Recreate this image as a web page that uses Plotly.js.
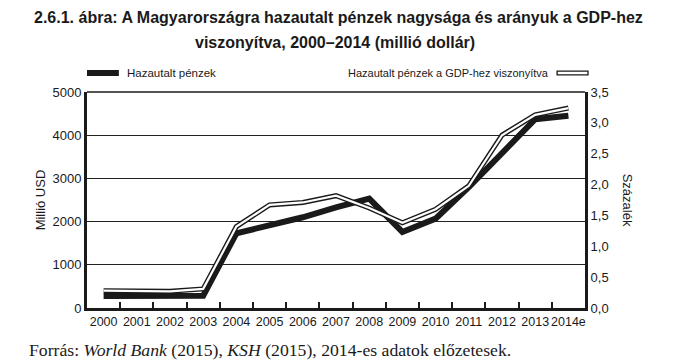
<!DOCTYPE html>
<html><head><meta charset="utf-8">
<script src="https://cdn.plot.ly/plotly-3.0.1.min.js"></script>
<style>body{margin:0;background:#fff}#c{width:679px;height:360px}</style>
</head><body><div id="c"></div>
<script>
const years = ["2000","2001","2002","2003","2004","2005","2006","2007","2008","2009","2010","2011","2012","2013","2014e"];
const remittances = [280, 290, 275, 285, 1730, 1910, 2100, 2330, 2530, 1760, 2070, 2800, 3570, 4370, 4450];
const gdpShare = [0.28, 0.28, 0.27, 0.31, 1.32, 1.67, 1.71, 1.82, 1.62, 1.38, 1.60, 1.98, 2.80, 3.13, 3.24];
const leftTicks = [0, 1000, 2000, 3000, 4000, 5000];
const rightTicks = [0, 0.5, 1.0, 1.5, 2.0, 2.5, 3.0, 3.5];
const rightTickLabels = ["0,0","0,5","1,0","1,5","2,0","2,5","3,0","3,5"];

const FONT = '"Liberation Sans", Arial, sans-serif';

const traces = [
  {x: years, y: remittances, type: 'scatter', mode: 'lines', line: {color: '#1a1a1a', width: 6}, yaxis: 'y', hoverinfo: 'skip'},
  {x: years, y: gdpShare, type: 'scatter', mode: 'lines', line: {color: '#1a1a1a', width: 5}, yaxis: 'y2', hoverinfo: 'skip'},
  {x: years, y: gdpShare, type: 'scatter', mode: 'lines', line: {color: '#ffffff', width: 2.2}, yaxis: 'y2', hoverinfo: 'skip'}
];

const layout = {
  width: 679, height: 360,
  margin: {l: 87, r: 94, t: 92, b: 52},
  paper_bgcolor: '#fff', plot_bgcolor: '#fff',
  showlegend: false,
  font: {family: FONT, color: '#1a1a1a', size: 13},
  xaxis: {type: 'category', range: [-0.5, 14.5], tickson: 'boundaries', ticks: 'inside', ticklen: 6, tickwidth: 2,
          tickangle: 0, tickcolor: '#1a1a1a', showgrid: false, showline: true, linecolor: '#1a1a1a', linewidth: 3,
          tickfont: {family: FONT, size: 12.5}, fixedrange: true},
  yaxis: {range: [0, 5000], tickvals: leftTicks, showgrid: true, gridcolor: '#222', gridwidth: 1,
          showline: true, linecolor: '#1a1a1a', linewidth: 3, ticks: '', zeroline: false,
          tickfont: {family: FONT, size: 13},
          title: {text: 'Millió USD', font: {family: FONT, size: 13}, standoff: 4}},
  yaxis2: {range: [0, 3.5], overlaying: 'y', side: 'right', tickvals: rightTicks, ticktext: rightTickLabels,
           showgrid: false, showline: true, linecolor: '#1a1a1a', linewidth: 3, ticks: '', zeroline: false,
           tickfont: {family: FONT, size: 13}},
  shapes: [
    {type: 'line', xref: 'paper', yref: 'paper', x0: 0, x1: 1, y0: 1, y1: 1, line: {color: '#1a1a1a', width: 1.5}},
    {type: 'line', xref: 'paper', yref: 'paper', x0: 0, x1: 0.064, y0: 1.088, y1: 1.088, line: {color: '#1a1a1a', width: 6}},
    {type: 'rect', xref: 'paper', yref: 'paper', x0: 0.944, x1: 1.006, y0: 1.079, y1: 1.097, line: {color: '#1a1a1a', width: 1.3}, fillcolor: '#fff'}
  ],
  annotations: [
    {text: '<b>2.6.1. ábra: A Magyarországra hazautalt pénzek nagysága és arányuk a GDP-hez</b>', xref: 'paper', yref: 'paper', x: 0.506, y: 1.343, xanchor: 'center', yanchor: 'middle', showarrow: false, font: {family: FONT, size: 16}},
    {text: '<b>viszonyítva, 2000–2014 (millió dollár)</b>', xref: 'paper', yref: 'paper', x: 0.498, y: 1.231, xanchor: 'center', yanchor: 'middle', showarrow: false, font: {family: FONT, size: 16}},
    {text: 'Hazautalt pénzek', xref: 'paper', yref: 'paper', x: 0.076, y: 1.088, xanchor: 'left', yanchor: 'middle', showarrow: false, font: {family: FONT, size: 11.5}},
    {text: 'Hazautalt pénzek a GDP-hez viszonyítva', xref: 'paper', yref: 'paper', x: 0.932, y: 1.088, xanchor: 'right', yanchor: 'middle', showarrow: false, font: {family: FONT, size: 11}},
    {text: 'Százalék', xref: 'paper', yref: 'paper', x: 1.087, y: 0.5, xanchor: 'center', yanchor: 'middle', textangle: 90, showarrow: false, font: {family: FONT, size: 13}},
    {text: 'Forrás: <i>World Bank</i> (2015), <i>KSH</i> (2015), 2014-es adatok előzetesek.', xref: 'paper', yref: 'paper', x: -0.12, y: -0.194, xanchor: 'left', yanchor: 'middle', showarrow: false,
     font: {family: '"Liberation Serif", "DejaVu Serif", serif', size: 17.7, color: '#1a1a1a'}}
  ]
};
Plotly.newPlot('c', traces, layout, {displayModeBar: false, staticPlot: true});
</script>
</body></html>
